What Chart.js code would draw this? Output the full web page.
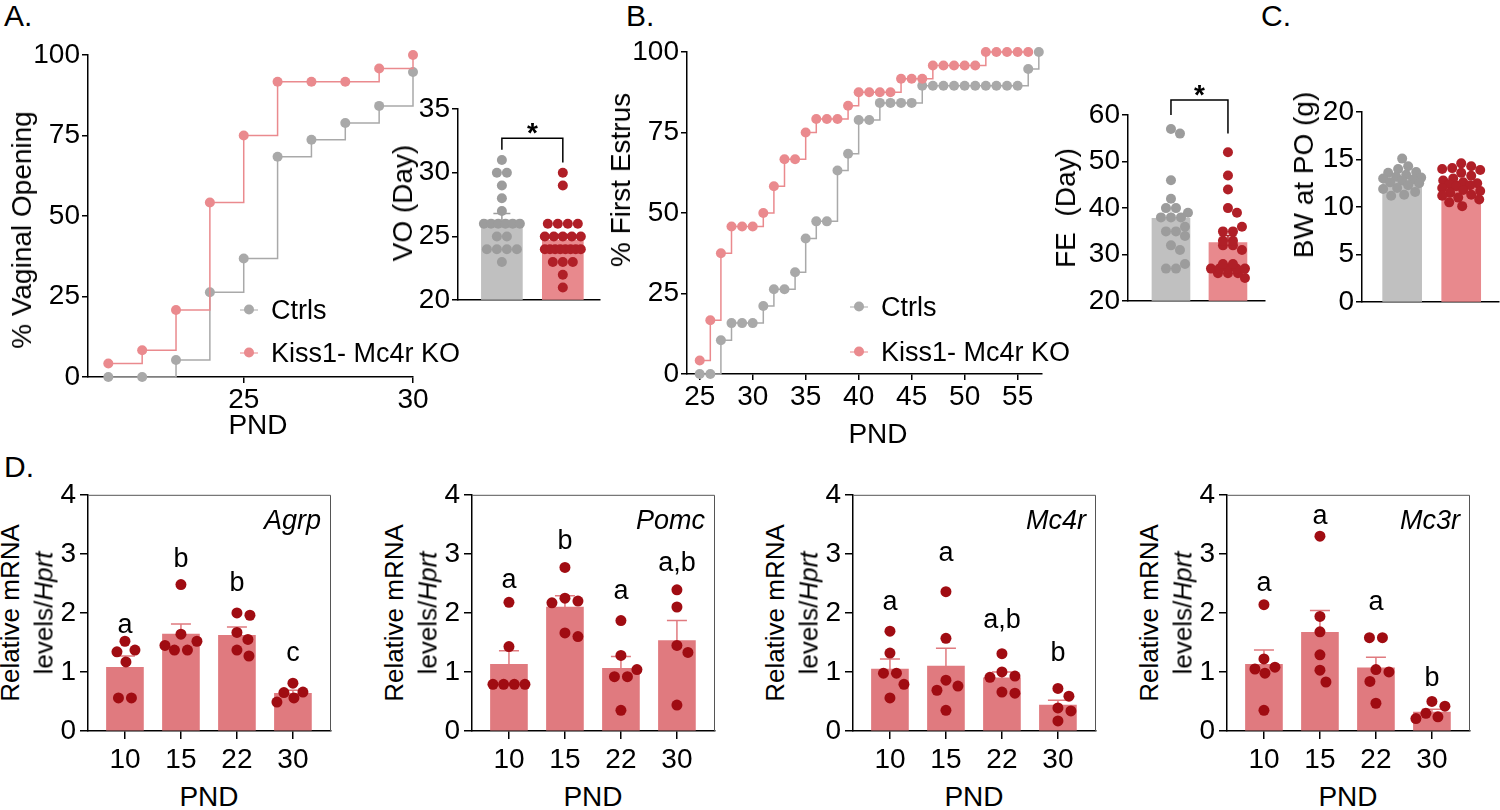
<!DOCTYPE html>
<html>
<head>
<meta charset="utf-8">
<script src="https://cdn.jsdelivr.net/npm/chart.js@4.4.1/dist/chart.umd.min.js"></script>
<style>
  body { margin: 0; width: 1500px; height: 810px; position: relative; overflow: hidden; background: #fff;
         font-family: "Liberation Sans", Arial, sans-serif; color: #000; }
  canvas { position: absolute; }
  .t { position: absolute; font-size: 28px; white-space: nowrap; transform: translate(-50%, -50%); }
  .r { transform: translate(-50%, -50%) rotate(-90deg); }
  .d { font-size: 26px; }
  .lab { position: absolute; font-size: 30px; line-height: 1; }
  .leg { position: absolute; font-size: 27px; white-space: nowrap; display: flex; align-items: center; transform: translateY(-50%); }
  .mk { position: relative; width: 18px; height: 1.5px; margin-right: 13px; }
  .mk::after { content: ""; position: absolute; left: 4px; top: -4.5px; width: 10px; height: 10px; border-radius: 50%; background: inherit; }
</style>
</head>
<body>
<canvas id="chartA"></canvas>
<canvas id="chartVO"></canvas>
<canvas id="chartB"></canvas>
<canvas id="chartFE"></canvas>
<canvas id="chartC"></canvas>
<canvas id="chartAgrp"></canvas>
<canvas id="chartPomc"></canvas>
<canvas id="chartMc4r"></canvas>
<canvas id="chartMc3r"></canvas>

<div class="lab" style="left:4px;top:1px">A.</div>
<div class="lab" style="left:626px;top:1px">B.</div>
<div class="lab" style="left:1261px;top:1px">C.</div>
<div class="lab" style="left:4px;top:452px">D.</div>

<div class="t r" style="left:22px;top:230px">% Vaginal Opening</div>
<div class="t" style="left:258px;top:425px">PND</div>
<div class="t r" style="left:403px;top:203px">VO (Day)</div>
<div class="t r" style="left:621px;top:180px">% First Estrus</div>
<div class="t" style="left:878px;top:434px">PND</div>
<div class="t r" style="left:1066px;top:208px">FE&nbsp;&nbsp;(Day)</div>
<div class="t r" style="left:1304px;top:175px">BW at PO (g)</div>

<div class="leg" style="left:240px;top:310px"><span class="mk" style="background:#a9a9a9"></span>Ctrls</div>
<div class="leg" style="left:240px;top:353px"><span class="mk" style="background:#ea8a8e"></span>Kiss1- Mc4r KO</div>
<div class="leg" style="left:850px;top:307px"><span class="mk" style="background:#a9a9a9"></span>Ctrls</div>
<div class="leg" style="left:850px;top:352px"><span class="mk" style="background:#ea8a8e"></span>Kiss1- Mc4r KO</div>

<div id="dTitles"></div>

<script>
// ---- data ----
// A: cumulative % vaginal opening by PND
const daysA = [21, 22, 23, 24, 25, 26, 27, 28, 29, 30];
const voCurveCtrl = [0, 0, 5.3, 26.3, 36.8, 68.4, 73.7, 78.9, 84.2, 94.7];
const voCurveKO = [4.2, 8.3, 20.8, 54.2, 75, 91.7, 91.7, 91.7, 95.8, 100];

// A inset: day of VO per mouse
const voCtrl = [23, 24, 24, 24, 24, 25, 25, 26, 26, 26, 26, 26, 26, 27, 28, 29, 30, 30, 31];
const voKO = [21, 22, 23, 23, 23, 24, 24, 24, 24, 24, 24, 24, 24, 25, 25, 25, 25, 25, 26, 26, 26, 26, 29, 30];
const voMean = [26.3, 24.7];
const voSem = [0.5, 0.45];

// B: cumulative % first estrus by PND
const daysB = [25, 26, 27, 28, 29, 30, 31, 32, 33, 34, 35, 36, 37, 38, 39, 40, 41,
               42, 43, 44, 45, 46, 47, 48, 49, 50, 51, 52, 53, 54, 55, 56, 57];
const feCurveCtrl = [0, 0, 10.5, 15.8, 15.8, 15.8, 21.1, 26.3, 26.3, 31.6, 42.1, 47.4, 47.4, 63.2, 68.4, 78.9, 78.9,
                     84.2, 84.2, 84.2, 84.2, 89.5, 89.5, 89.5, 89.5, 89.5, 89.5, 89.5, 89.5, 89.5, 89.5, 94.7, 100];
const feCurveKO = [4.2, 16.7, 37.5, 45.8, 45.8, 45.8, 50, 58.3, 66.7, 66.7, 75, 79.2, 79.2, 79.2, 83.3, 87.5, 87.5,
                   87.5, 87.5, 91.7, 91.7, 91.7, 95.8, 95.8, 95.8, 95.8, 95.8, 100, 100, 100, 100, 100];

// FE: day of first estrus per mouse
const feCtrl = [27, 27, 28, 31, 32, 34, 35, 35, 36, 38, 38, 38, 39, 40, 40, 42, 46, 56, 57];
const feKO = [25, 26, 26, 26, 27, 27, 27, 27, 27, 28, 28, 31, 32, 32, 33, 33, 35, 35, 36, 39, 40, 44, 47, 52];
const feMean = [37.8, 32.6];
const feSem = [2.1, 1.5];

// C: body weight at puberty onset (g)
const bwCtrl = [15.1, 14.3, 14.0, 13.7, 13.6, 13.4, 13.2, 13.1, 13.0, 12.9, 12.8, 12.6, 12.5, 12.3, 12.0, 11.9, 11.6, 11.3, 11.2];
const bwKO = [14.6, 14.3, 14.1, 14.0, 13.9, 13.6, 13.3, 13.0, 12.8, 12.6, 12.5, 12.4, 12.3, 12.2, 12.0, 11.8, 11.7, 11.5,
              11.3, 11.2, 11.0, 10.8, 10.5, 10.1];
const bwMean = [12.9, 12.4];
const bwSem = [0.24, 0.26];

// D: relative mRNA levels / Hprt by PND
const pnd = ['10', '15', '22', '30'];

const agrpDots = [[1.37, 1.52, 1.17, 1.34, 0.56, 0.56], [2.48, 1.64, 1.52, 1.37, 1.37, 1.45],
                  [1.96, 2.0, 1.55, 1.67, 1.27, 1.37], [0.66, 0.65, 0.81, 0.49, 0.56]];
const agrpMean = [1.08, 1.64, 1.62, 0.64];
const agrpSem = [0.19, 0.17, 0.14, 0.05];
const agrpLetters = ['a', 'b', 'b', 'c'];
const agrpLetterY = [1.79, 2.9, 2.5, 1.32];

const pomcDots = [[2.18, 1.43, 0.79, 0.79, 0.79, 0.79], [2.77, 2.2, 2.25, 2.17, 1.6, 1.66],
                  [1.87, 1.28, 1.04, 0.92, 0.92, 0.35], [2.39, 2.1, 1.45, 1.33, 0.44]];
const pomcMean = [1.13, 2.10, 1.06, 1.53];
const pomcSem = [0.23, 0.19, 0.20, 0.34];
const pomcLetters = ['a', 'b', 'a', 'a,b'];
const pomcLetterY = [2.55, 3.2, 2.37, 2.84];

const mc4rDots = [[1.69, 1.32, 0.98, 0.98, 0.79, 0.56], [2.36, 1.57, 0.76, 0.86, 0.69, 0.35],
                  [1.31, 0.93, 1.0, 0.91, 0.64, 0.66], [0.72, 0.59, 0.39, 0.34, 0.17]];
const mc4rMean = [1.05, 1.10, 0.90, 0.44];
const mc4rSem = [0.17, 0.30, 0.10, 0.08];
const mc4rLetters = ['a', 'a', 'a,b', 'b'];
const mc4rLetterY = [2.18, 3.0, 1.87, 1.32];

const mc3rDots = [[2.14, 1.08, 1.22, 1.05, 0.98, 0.35], [3.30, 1.94, 1.68, 1.29, 1.03, 0.83],
                  [1.58, 1.58, 1.0, 1.04, 0.84, 0.47], [0.5, 0.42, 0.21, 0.3, 0.24]];
const mc3rMean = [1.13, 1.67, 1.07, 0.32];
const mc3rSem = [0.24, 0.37, 0.18, 0.05];
const mc3rLetters = ['a', 'a', 'a', 'b'];
const mc3rLetterY = [2.5, 3.64, 2.18, 0.88];

// ---- styling ----
const FONT = "'Liberation Sans', Arial, Helvetica, sans-serif";
const TICK = 28;
Chart.defaults.font.family = FONT;
Chart.defaults.color = '#000';

const GRAY_LINE = '#a9a9a9', PINK_LINE = '#ea8a8e';
const GRAY_BAR = '#c0c0c0', GRAY_DOT = '#9c9c9c';
const PINK_BAR = '#e8898d', RED_DOT = '#b01f27';
const D_BAR = '#e07a7f', D_DOT = '#a00c12';

// size a canvas so that its plot area lands on [left, top, right, bottom]
// m = [top, right, bottom, left] room around the plot
function place(id, area, m) {
  const c = document.getElementById(id);
  const w = area[2] - area[0] + m[1] + m[3];
  const h = area[3] - area[1] + m[0] + m[2];
  c.width = w; c.height = h;
  c.style.width = w + 'px'; c.style.height = h + 'px';
  c.style.left = (area[0] - m[3]) + 'px';
  c.style.top = (area[1] - m[0]) + 'px';
  return c.getContext('2d');
}

function yScale(min, max, step, width, tickLen, pad) {
  return {
    type: 'linear', min, max,
    ticks: { stepSize: step, font: { size: TICK }, color: '#000', padding: pad },
    grid: { drawOnChartArea: false, tickLength: tickLen, color: '#000', lineWidth: 1.5 },
    border: { color: '#000', width: 1.5 },
    afterFit: s => { s.width = width; }
  };
}

function xScale(min, max, height, ticks, labels, tickLen, pad) {
  const cfg = {
    type: 'linear', min, max, offset: false,
    grid: { display: !!ticks, offset: false, drawOnChartArea: false, tickLength: tickLen, color: '#000', lineWidth: 1.5 },
    border: { color: '#000', width: 1.5 },
    ticks: { display: !!ticks, font: { size: TICK }, color: '#000', padding: pad, maxRotation: 0, autoSkip: false,
             callback: (v, i) => labels ? labels[i] : v },
    afterFit: s => { s.height = height; }
  };
  if (ticks) cfg.afterBuildTicks = s => { s.ticks = ticks.map(v => ({ value: v })); };
  return cfg;
}

function baseOptions(m) {
  return {
    responsive: false, devicePixelRatio: 1, animation: false, events: [],
    layout: { autoPadding: false, padding: { top: m[0], right: m[1], bottom: 0, left: 0 } },
    plugins: { legend: { display: false }, tooltip: { enabled: false } }
  };
}

// spread dots sideways so they don't pile up (GraphPad-like scatter)
function swarm(vals, pxY, d, maxHalf) {
  const off = vals.map(() => null);
  const placed = [];
  const counts = {};
  vals.forEach(v => { counts[v] = (counts[v] || 0) + 1; });
  Object.keys(counts).forEach(k => {
    const n = counts[k];
    if (n < 2) return;
    const s = Math.min(d, 2 * maxHalf / (n - 1));
    let j = 0;
    vals.forEach((v, i) => {
      if (String(v) !== k) return;
      off[i] = (j - (n - 1) / 2) * s;
      j++;
      placed.push({ x: off[i], y: v * pxY });
    });
  });
  const rest = vals.map((v, i) => i).filter(i => off[i] === null).sort((a, b) => vals[b] - vals[a]);
  rest.forEach(i => {
    const y = vals[i] * pxY;
    let best = 0, score = -1;
    for (let k = 0; k <= 2 * maxHalf; k++) {
      const o = k % 2 ? (k + 1) / 2 : -k / 2;
      let md = d;
      placed.forEach(p => { md = Math.min(md, Math.hypot(p.x - o, p.y - y)); });
      if (md > score + 1e-6) { score = md; best = o; }
      if (md >= d) break;
    }
    off[i] = best;
    placed.push({ x: best, y });
  });
  return off;
}

// error bars, frame, gene name, letters, significance bracket
function extras(s) {
  return {
    id: 'extras',
    afterDatasetDraw(chart, args) {
      if (args.meta.type !== 'bar') return;
      const { ctx, scales: { x, y } } = chart;
      ctx.save();
      ctx.lineWidth = 1.5;
      s.mean.forEach((m, i) => {
        const px = x.getPixelForValue(i);
        const y0 = y.getPixelForValue(m), y1 = y.getPixelForValue(m + s.sem[i]);
        ctx.strokeStyle = s.errColors[i];
        ctx.beginPath();
        ctx.moveTo(px, y0); ctx.lineTo(px, y1);
        ctx.moveTo(px - s.cap, y1); ctx.lineTo(px + s.cap, y1);
        ctx.stroke();
      });
      ctx.restore();
    },
    afterDraw(chart) {
      const { ctx, chartArea: a, scales: { x, y } } = chart;
      ctx.save();
      if (s.frame) {
        ctx.strokeStyle = '#555'; ctx.lineWidth = 1;
        ctx.beginPath();
        ctx.moveTo(a.left, a.top + 0.5); ctx.lineTo(a.right - 0.5, a.top + 0.5); ctx.lineTo(a.right - 0.5, a.bottom);
        ctx.stroke();
      }
      ctx.fillStyle = '#000';
      if (s.gene) {
        ctx.font = 'italic 27px ' + FONT;
        ctx.textAlign = 'right'; ctx.textBaseline = 'middle';
        ctx.fillText(s.gene, a.right - 10, a.top + 27);
      }
      if (s.letters) {
        ctx.font = '27px ' + FONT;
        ctx.textAlign = 'center'; ctx.textBaseline = 'middle';
        s.letters.forEach((t, i) => ctx.fillText(t, x.getPixelForValue(i), y.getPixelForValue(s.letterY[i])));
      }
      if (s.sig) {
        const yb = y.getPixelForValue(s.sig.y);
        const x0 = x.getPixelForValue(0), x1 = x.getPixelForValue(1);
        ctx.strokeStyle = '#000'; ctx.lineWidth = 1.5;
        ctx.beginPath();
        ctx.moveTo(x0, y.getPixelForValue(s.sig.ends[0])); ctx.lineTo(x0, yb);
        ctx.lineTo(x1, yb); ctx.lineTo(x1, y.getPixelForValue(s.sig.ends[1]));
        ctx.stroke();
        ctx.font = 'bold 28px ' + FONT;
        ctx.textAlign = 'center'; ctx.textBaseline = 'alphabetic';
        ctx.fillText('*', (x0 + x1) / 2, yb + 4);
      }
      ctx.restore();
    }
  };
}

function barDots(id, area, m, s) {
  const ctx = place(id, area, m);
  const pxY = (area[3] - area[1]) / (s.yMax - s.yMin);
  const pxX = (area[2] - area[0]) / (s.xMax - s.xMin);
  const datasets = [{
    type: 'bar', order: 2, base: s.yMin, barThickness: s.barW,
    data: s.mean.map((v, i) => ({ x: i, y: v })),
    backgroundColor: s.barColors, borderWidth: 0
  }];
  s.groups.forEach((vals, g) => {
    const off = swarm(vals, pxY, s.d, s.maxHalf);
    datasets.push({
      type: 'scatter', order: 1, clip: false,
      data: vals.map((v, i) => ({ x: g + off[i] / pxX, y: v })),
      pointRadius: s.r, pointBackgroundColor: s.dotColors[g], pointBorderWidth: 0, pointBorderColor: 'rgba(0,0,0,0)'
    });
  });
  const options = baseOptions(m);
  options.scales = {
    x: xScale(s.xMin, s.xMax, m[2], s.xTicks, s.xLabels, s.tickLen, s.xPad),
    y: yScale(s.yMin, s.yMax, s.step, m[3], s.tickLen, s.yPad)
  };
  return new Chart(ctx, { type: 'bar', data: { datasets }, options, plugins: [extras(s)] });
}

function stepChart(id, area, m, s) {
  const ctx = place(id, area, m);
  const ds = (days, vals, color) => ({
    data: vals.map((v, i) => ({ x: days[i], y: v })),
    stepped: true, borderColor: color, backgroundColor: color, borderWidth: 1.5,
    pointRadius: 5, pointBackgroundColor: color, pointBorderWidth: 0, clip: false, fill: false
  });
  const options = baseOptions(m);
  options.scales = {
    x: xScale(s.xMin, s.xMax, m[2], s.xTicks, null, 6, 0),
    y: yScale(0, 100, 25, m[3], 6, 2)
  };
  return new Chart(ctx, {
    type: 'line',
    data: { datasets: [ds(s.days, s.ko, PINK_LINE), ds(s.days, s.ctrl, GRAY_LINE)] },
    options
  });
}

// ---- panel A ----
stepChart('chartA', [88, 55, 413, 377], [20, 20, 45, 64], {
  days: daysA, ctrl: voCurveCtrl, ko: voCurveKO, xMin: 20.4, xMax: 30, xTicks: [25, 30]
});

barDots('chartVO', [458, 109, 600, 315], [32, 4, 4, 58], {
  groups: [voCtrl, voKO], mean: voMean, sem: voSem,
  yMin: 20, yMax: 35, step: 5, xMin: -0.72, xMax: 1.61, barW: 41,
  barColors: [GRAY_BAR, PINK_BAR], dotColors: [GRAY_DOT, RED_DOT], errColors: [GRAY_DOT, RED_DOT],
  cap: 8.5, r: 5, d: 10, maxHalf: 18, tickLen: 6, yPad: 2, xPad: 0,
  sig: { y: 32.7, ends: [31.8, 30.8] }
});

// ---- panel B ----
stepChart('chartB', [687, 52, 1042, 374], [20, 20, 45, 64], {
  days: daysB, ctrl: feCurveCtrl, ko: feCurveKO, xMin: 23.8, xMax: 57.3, xTicks: [25, 30, 35, 40, 45, 50, 55]
});

barDots('chartFE', [1128, 115, 1265, 316], [42, 4, 4, 50], {
  groups: [feCtrl, feKO], mean: feMean, sem: feSem,
  yMin: 20, yMax: 60, step: 10, xMin: -0.754, xMax: 1.65, barW: 38,
  barColors: [GRAY_BAR, PINK_BAR], dotColors: [GRAY_DOT, RED_DOT], errColors: ['#d8d8d8', RED_DOT],
  cap: 8.5, r: 5, d: 10, maxHalf: 17, tickLen: 6, yPad: 2, xPad: 0,
  sig: { y: 63.2, ends: [60, 56] }
});

// ---- panel C ----
barDots('chartC', [1362, 112, 1499, 317], [20, 1, 4, 50], {
  groups: [bwCtrl, bwKO], mean: bwMean, sem: bwSem,
  yMin: 0, yMax: 20, step: 5, xMin: -0.68, xMax: 1.64, barW: 39,
  barColors: [GRAY_BAR, PINK_BAR], dotColors: [GRAY_DOT, RED_DOT], errColors: [GRAY_DOT, RED_DOT],
  cap: 8.5, r: 5, d: 10, maxHalf: 19, tickLen: 6, yPad: 2, xPad: 0
});

// ---- panel D ----
const dPanels = [
  ['chartAgrp', 88, 'Agrp', agrpDots, agrpMean, agrpSem, agrpLetters, agrpLetterY],
  ['chartPomc', 472, 'Pomc', pomcDots, pomcMean, pomcSem, pomcLetters, pomcLetterY],
  ['chartMc4r', 853, 'Mc4r', mc4rDots, mc4rMean, mc4rSem, mc4rLetters, mc4rLetterY],
  ['chartMc3r', 1227, 'Mc3r', mc3rDots, mc3rMean, mc3rSem, mc3rLetters, mc3rLetterY]
];
const titles = document.getElementById('dTitles');
dPanels.forEach(([id, left, gene, dots, mean, sem, letters, letterY]) => {
  barDots(id, [left, 494, left + 243, 731], [20, 4, 50, 40], {
    groups: dots, mean, sem, yMin: 0, yMax: 4, step: 1,
    xMin: -0.66, xMax: 3.68, xTicks: [0, 1, 2, 3], xLabels: pnd, barW: 37,
    barColors: D_BAR, dotColors: dots.map(() => D_DOT), errColors: mean.map(() => D_BAR),
    cap: 10, r: 5.5, d: 13, maxHalf: 16, tickLen: 8, yPad: 4, xPad: 4,
    frame: true, gene, letters, letterY
  });
  titles.insertAdjacentHTML('beforeend',
    `<div class="t r d" style="left:${left - 78}px;top:613px">Relative mRNA</div>` +
    `<div class="t r d" style="left:${left - 44}px;top:613px">levels/<i>Hprt</i></div>` +
    `<div class="t" style="left:${left + 121}px;top:797px">PND</div>`);
});
</script>
</body>
</html>
